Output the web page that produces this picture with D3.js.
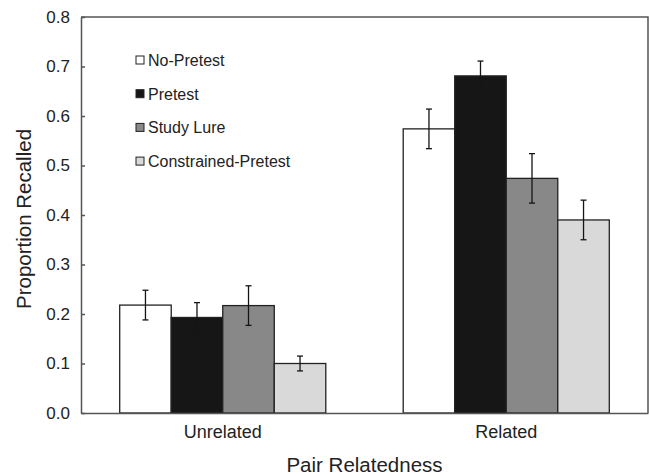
<!DOCTYPE html>
<html>
<head>
<meta charset="utf-8">
<script src="https://cdn.jsdelivr.net/npm/d3@7"></script>
<style>
  body { margin: 0; background: #fff; }
  svg { font-family: "Liberation Sans", Arial, sans-serif; }
  .axis path, .axis line { stroke: #555; stroke-width: 1.5; }
  .axis text { fill: #222; font-size: 17px; }
</style>
</head>
<body>
<div id="chart"></div>
<script>
// Recall proportions by pair relatedness and condition

const groups = ["Unrelated", "Related"];
const conditions = ["No-Pretest", "Pretest", "Study Lure", "Constrained-Pretest"];
const colors = ["#ffffff", "#161616", "#888888", "#d9d9d9"];

// means per group (order follows conditions)
const unrelatedMeans = [0.218, 0.193, 0.217, 0.100];
const relatedMeans = [0.574, 0.681, 0.474, 0.390];
// error bar half-lengths
const unrelatedErr = [0.030, 0.030, 0.040, 0.015];
const relatedErr = [0.040, 0.030, 0.050, 0.040];

const yTicks = [0, 0.1, 0.2, 0.3, 0.4, 0.5, 0.6, 0.7, 0.8];

const width = 649;
const height = 476;
const margin = { top: 17, right: 1, bottom: 63, left: 81 };

const svg = d3.select("#chart")
  .append("svg")
  .attr("width", width)
  .attr("height", height);

const chartWidth = width - margin.left - margin.right;
const chartHeight = height - margin.top - margin.bottom;

const chart = svg.append("g")
  .attr("transform", `translate(${margin.left}, ${margin.top})`);

// build rows from the arrays
const data = [
  { group: "Unrelated", means: unrelatedMeans, errs: unrelatedErr },
  { group: "Related", means: relatedMeans, errs: relatedErr }
];
const rows = [];
data.forEach(g => {
  conditions.forEach((c, i) => {
    rows.push({ group: g.group, cond: c, value: g.means[i], err: g.errs[i], color: colors[i] });
  });
});

// scales
const x0 = d3.scaleBand()
  .domain(groups)
  .range([0, chartWidth])
  .paddingInner(0.273)
  .paddingOuter(0.1365);

const x1 = d3.scaleBand()
  .domain(conditions)
  .range([0, x0.bandwidth()])
  .padding(0);

const yScale = d3.scaleLinear()
  .domain([0, 0.8])
  .range([chartHeight, 0]);

// frame (top and right)
chart.append("path")
  .attr("d", `M0,0H${chartWidth}V${chartHeight}`)
  .attr("fill", "none")
  .attr("stroke", "#555")
  .attr("stroke-width", 1.5);

// bars
chart.selectAll(".bar")
  .data(rows)
  .enter()
  .append("rect")
  .attr("class", "bar")
  .attr("x", d => x0(d.group) + x1(d.cond))
  .attr("y", d => yScale(d.value))
  .attr("width", x1.bandwidth())
  .attr("height", d => chartHeight - yScale(d.value))
  .attr("fill", d => d.color)
  .attr("stroke", "#222")
  .attr("stroke-width", 1.3);

// error bars
const cap = 3;
const cx = d => x0(d.group) + x1(d.cond) + x1.bandwidth() / 2;
const eb = chart.selectAll(".err")
  .data(rows)
  .enter()
  .append("g")
  .attr("class", "err")
  .attr("stroke", "#151515")
  .attr("stroke-width", 1.3);

eb.append("line")
  .attr("x1", cx)
  .attr("x2", cx)
  .attr("y1", d => yScale(d.value - d.err))
  .attr("y2", d => yScale(d.value + d.err));

eb.append("line")
  .attr("x1", d => cx(d) - cap)
  .attr("x2", d => cx(d) + cap)
  .attr("y1", d => yScale(d.value + d.err))
  .attr("y2", d => yScale(d.value + d.err));

eb.append("line")
  .attr("x1", d => cx(d) - cap)
  .attr("x2", d => cx(d) + cap)
  .attr("y1", d => yScale(d.value - d.err))
  .attr("y2", d => yScale(d.value - d.err));

// Y axis
chart.append("g")
  .attr("class", "axis")
  .call(d3.axisLeft(yScale)
    .tickValues(yTicks)
    .tickFormat(d3.format(".1f"))
    .tickSizeInner(-4)
    .tickSizeOuter(0)
    .tickPadding(11));

// X axis
const xAxisG = chart.append("g")
  .attr("class", "axis")
  .attr("transform", `translate(0, ${chartHeight})`)
  .call(d3.axisBottom(x0).tickSize(0).tickPadding(12));
xAxisG.selectAll("text").style("font-size", "18px");

// axis labels
svg.append("text")
  .attr("x", margin.left + chartWidth / 2)
  .attr("y", 472)
  .attr("text-anchor", "middle")
  .style("font-size", "20.5px")
  .attr("fill", "#222")
  .text("Pair Relatedness");

svg.append("text")
  .attr("transform", "rotate(-90)")
  .attr("x", -219)
  .attr("y", 31)
  .attr("text-anchor", "middle")
  .style("font-size", "20.5px")
  .attr("fill", "#222")
  .text("Proportion Recalled");

// legend
const legend = svg.selectAll(".legend")
  .data(conditions)
  .enter()
  .append("g")
  .attr("class", "legend")
  .attr("transform", (d, i) => `translate(136, ${60 + i * 33.7})`);

legend.append("rect")
  .attr("x", 0)
  .attr("y", -4)
  .attr("width", 8)
  .attr("height", 8)
  .attr("fill", (d, i) => colors[i])
  .attr("stroke", "#222")
  .attr("stroke-width", 1);

legend.append("text")
  .attr("x", 12)
  .attr("y", 6)
  .style("font-size", "16px")
  .attr("fill", "#222")
  .text(d => d);
</script>
</body>
</html>
